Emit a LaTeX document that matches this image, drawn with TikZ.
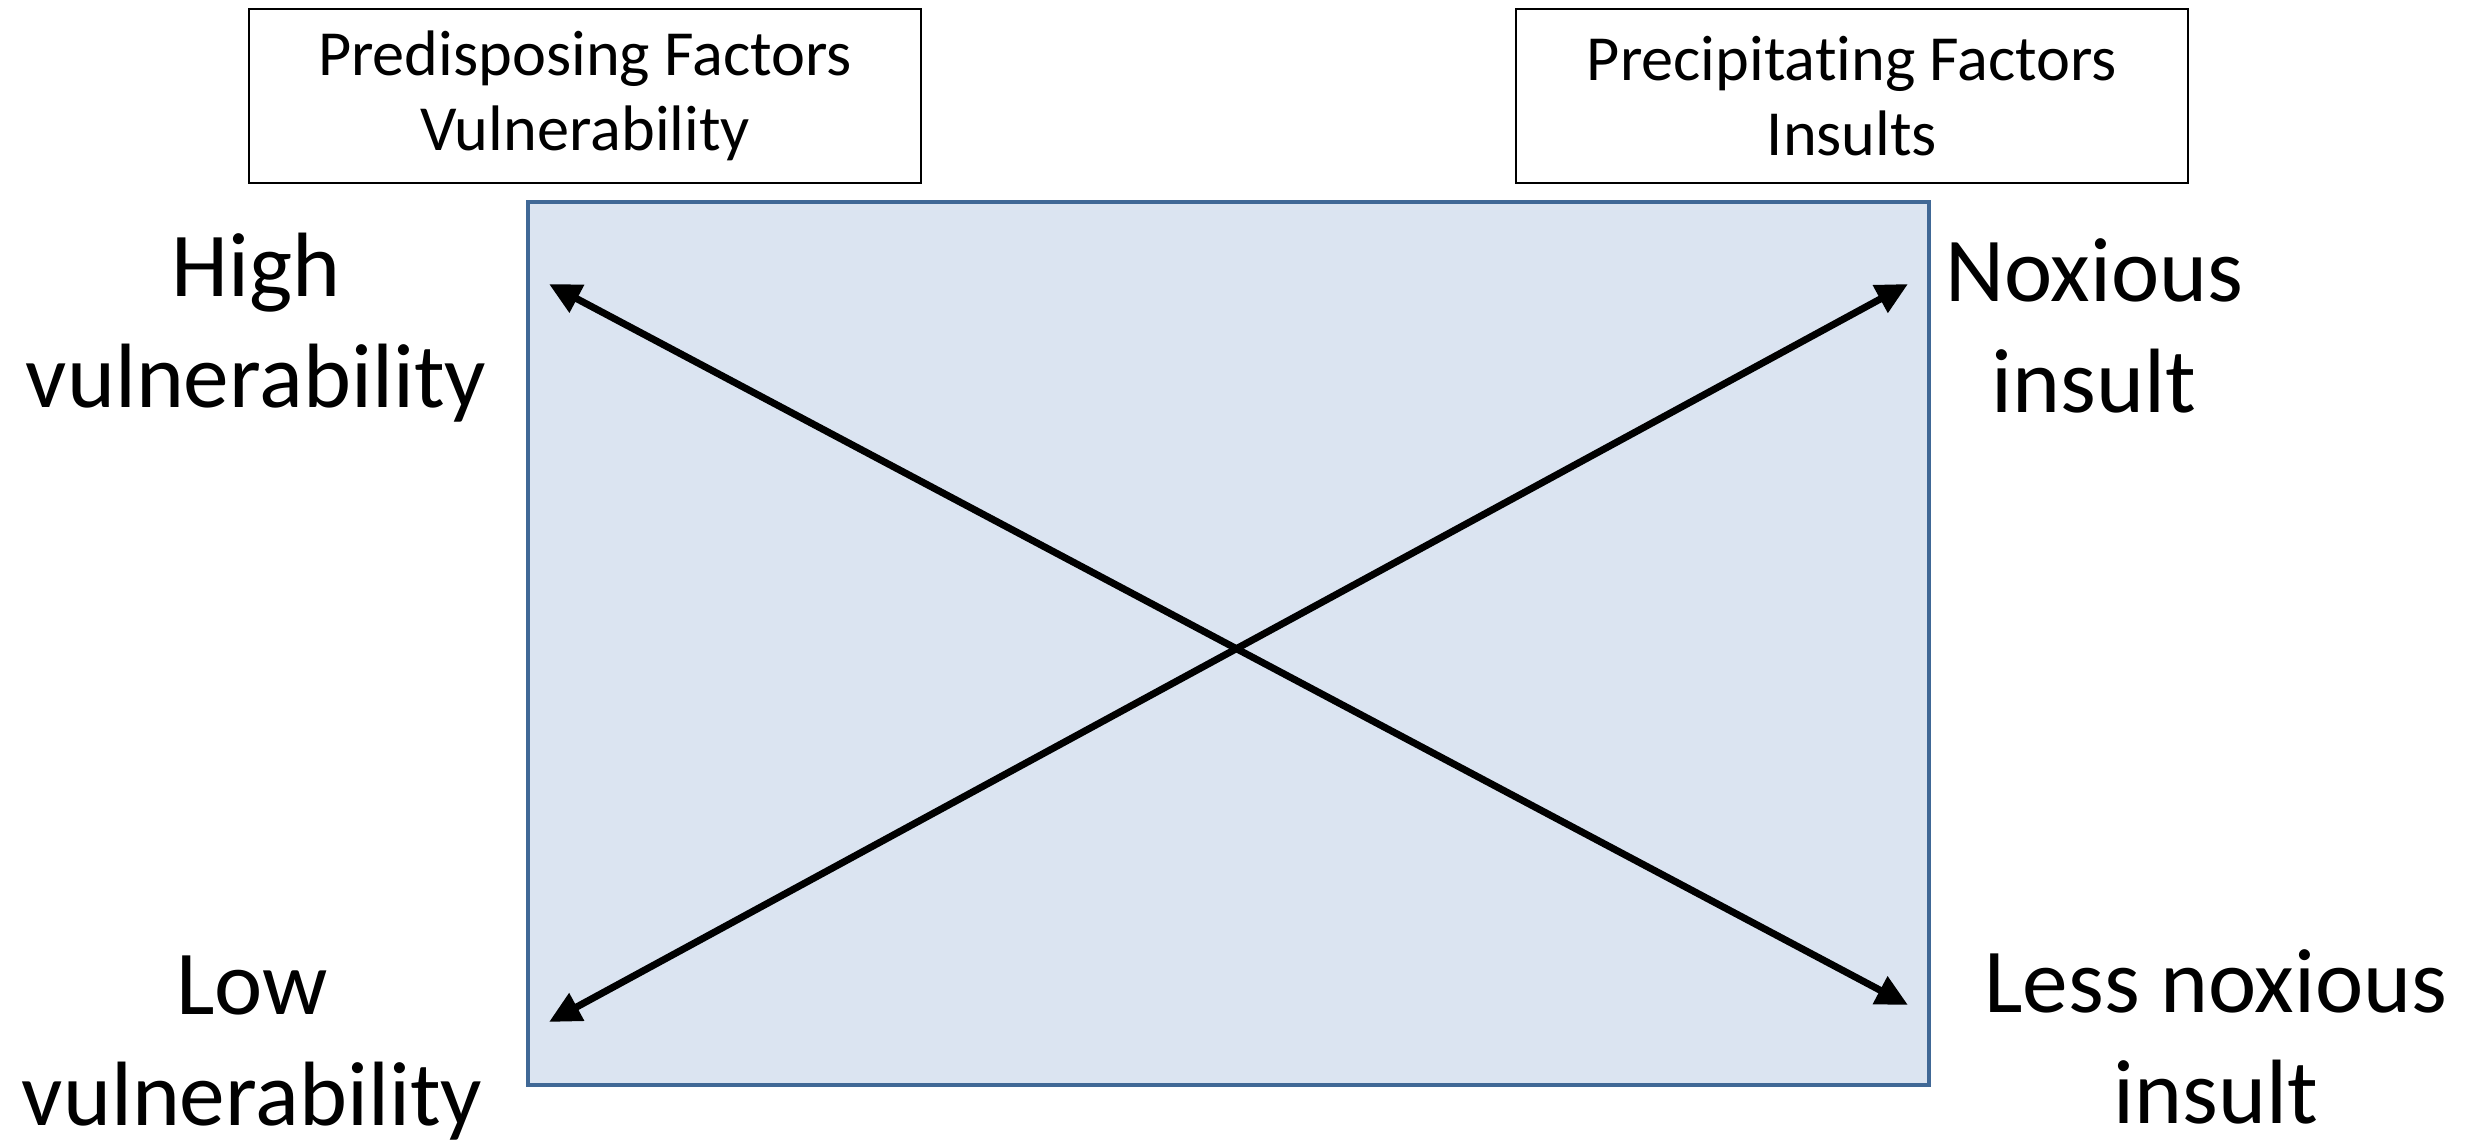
\documentclass[tikz,border=0pt]{standalone}
\usepackage{fontspec}
\setmainfont{Carlito}[Ligatures=NoCommon]
\usetikzlibrary{arrows.meta,positioning}

\definecolor{panelfill}{RGB}{219,228,241}
\definecolor{panelline}{RGB}{64,104,150}

\tikzstyle{factor} = [rectangle, draw, thick, text centered, align=center, minimum width=6.72cm, minimum height=1.74cm, font=\fontsize{18.3}{21.5}\selectfont]

\begin{document}
\begin{tikzpicture}[>={Triangle[length=9pt,width=8.5pt]}]
	\tikzstyle{level}=[align=center, font=\fontsize{26}{31.5}\selectfont]
	\tikzstyle{link}=[<->, line width=2pt]
  \useasboundingbox (0,0) rectangle (24.73,11.40);
  % top headers
  \node[factor] (pre) at (5.85,10.44) {Predisposing Factors\\Vulnerability};
  \node[factor] (prec) at (18.52,10.44) {Precipitating Factors\\Insults};
  % shaded panel
  \draw[panelline, fill=panelfill, line width=1.3pt] (5.28,0.55) rectangle (19.29,9.38);
  % side labels
  \node[level] (highv) at (2.56,8.12) {High\\vulnerability};
  \node[level] (lowv) at (2.52,0.92) {Low\\vulnerability};
  \node[level] (nox) at (20.94,8.14) {Noxious\\insult};
  \node[level] (lessnox) at (22.16,1.03) {Less noxious\\insult};
  % arrow ends
  \coordinate (tl) at (5.49,8.56);
  \coordinate (br) at (19.08,1.35);
  \coordinate (tr) at (19.08,8.56);
  \coordinate (bl) at (5.49,1.18);
\draw[link] (tl) -- (br);
\draw[link] (bl) -- (tr);
\end{tikzpicture}
\end{document}
